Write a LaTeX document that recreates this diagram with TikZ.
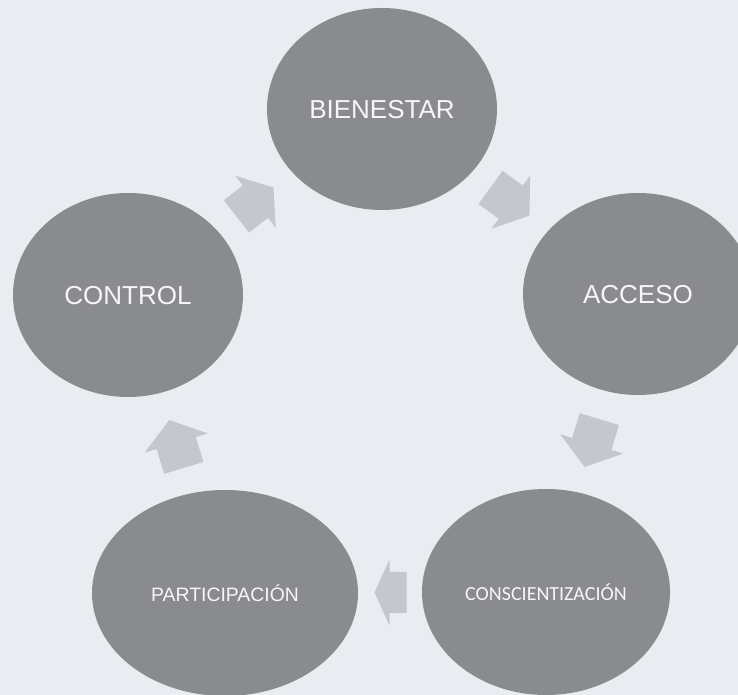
\documentclass[tikz,border=0pt]{standalone}
\usepackage{fontspec}
\setmainfont{Liberation Sans}
\newfontfamily\calib{Carlito}
\usetikzlibrary{shapes.geometric,calc}
\definecolor{paper}{RGB}{235,236,242}
\definecolor{blob}{RGB}{138,139,142}
\definecolor{arrowgray}{RGB}{198,199,204}
\definecolor{labelw}{RGB}{246,246,248}
\tikzset{
  blobnode/.style={ellipse, fill=blob, draw=none, inner sep=0pt, text=labelw, text depth=0pt},
  bigtext/.style={font=\fontsize{26}{28}\selectfont},
  smalltext/.style={font=\fontsize{19.4}{22}\selectfont},
  arrowshape/.style={fill=arrowgray, draw=none}
}
\newcommand\blockarrow[4]{% center, angle, total length, head length
  \fill[arrowshape, shift={#1}, rotate=#2]
    ({-#3/2},20.5) -- ({#3/2-#4},20.5) -- ({#3/2-#4},33) -- ({#3/2},0)
    -- ({#3/2-#4},-33) -- ({#3/2-#4},-20.5) -- ({-#3/2},-20.5) -- cycle;}
\begin{document}
\begin{tikzpicture}[x=1pt,y=1pt]
\useasboundingbox (0,0) rectangle (738,695);
\clip (0,0) rectangle (738,695);
\fill[paper] (0,0) rectangle (738,695);
\node[blobnode, bigtext, minimum width=230, minimum height=202] (bien) at (382,586) {BIENESTAR};
\node[blobnode, bigtext, minimum width=230, minimum height=202] (acc) at (638,401) {ACCESO};
\node[blobnode, minimum width=248, minimum height=206, font=\calib\fontsize{20}{22}\selectfont] (conc) at (546,103) {CONSCIENTIZACIÓN};
\node[blobnode, smalltext, minimum width=266, minimum height=206] (part) at (225,102) {PARTICIPACIÓN};
\node[blobnode, bigtext, minimum width=230, minimum height=204] (ctrl) at (128,400) {CONTROL};
\blockarrow{($(ctrl)!0.5!(bien)$)}{38}{47}{23}
\blockarrow{($(bien)!0.5!(acc)$)}{-36}{48}{23}
\blockarrow{($(acc)!0.5!(conc)$)}{-107}{50}{24}
\blockarrow{($(conc)!0.5!(part)+(5,0)$)}{180}{32}{15}
\blockarrow{($(part)!0.5!(ctrl)$)}{107}{50}{24}
\end{tikzpicture}
\end{document}
